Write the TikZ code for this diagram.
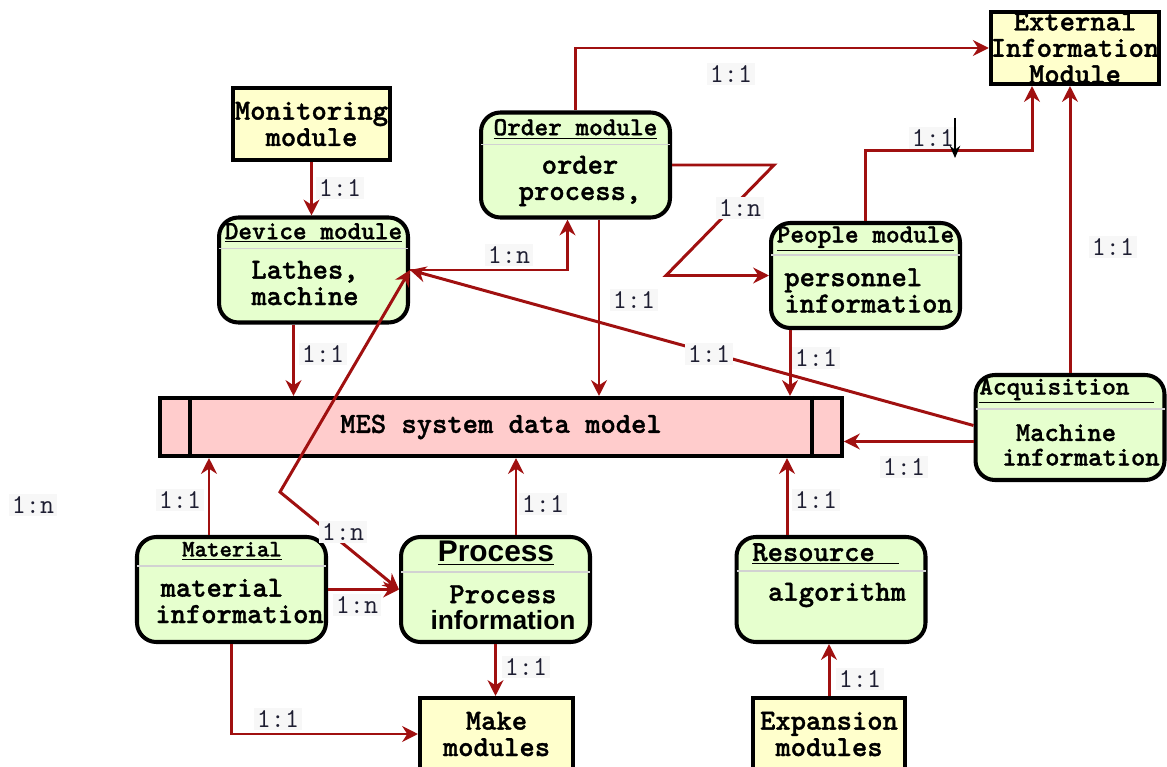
\documentclass[tikz,border=0pt]{standalone}
\usepackage{fontspec}
\newfontfamily\arialfont{Liberation Sans}
\newfontfamily\monobold{lmmonolt10-bold.otf}[RawFeature={embolden=1.2}]
\usetikzlibrary{arrows.meta,calc}

\definecolor{linkred}{RGB}{160,16,16}
\definecolor{boxgreen}{RGB}{230,255,206}
\definecolor{boxyellow}{RGB}{255,255,204}
\definecolor{mespink}{RGB}{255,204,204}
\definecolor{ratioink}{RGB}{30,30,50}

\newcommand\BodyFont{\monobold\fontsize{16.6pt}{15pt}\selectfont}
\newcommand\HeadFont{\monobold\fontsize{14.8pt}{14pt}\selectfont}
\newcommand\RatioFont{\ttfamily\fontsize{15.5pt}{14pt}\selectfont}

\begin{document}
\begin{tikzpicture}[x=0.02cm,y=-0.02cm]
    \tikzset{ModuleStyle/.style = {%
        shape= rectangle,
        draw, line width= 2.3pt,
        fill= boxyellow,
        minimum height= 1.44cm,
        inner sep= 0pt, align= center,
        font= \BodyFont}}
    \tikzset{EntityStyle/.style = {%
        shape= rectangle,
        draw, line width= 2.3pt,
        rounded corners= 11pt,
        fill= boxgreen,
        minimum width= 3.78cm, minimum height= 2.1cm,
        inner sep= 0pt}}
    \tikzset{MesStyle/.style = {%
        shape= rectangle,
        draw, line width= 2.3pt,
        fill= mespink,
        minimum width= 13.64cm, minimum height= 1.16cm,
        font= \BodyFont}}
    \tikzset{HeadStyle/.style = {inner sep= 0pt, font= \HeadFont}}
    \tikzset{BodyStyle/.style = {inner sep= 0pt, align= center, font= \BodyFont}}
    \tikzset{SepStyle/.style = {draw= gray!35, line width= 0.9pt}}
    \tikzset{RatioStyle/.style = {fill= gray!6, inner sep= 1.5pt, text= ratioink, font= \RatioFont}}
    \tikzset{LinkStyle/.style = {%
        draw= linkred, line width= 1.7pt,
        >= {Stealth[length=9pt,width=9pt]}, ->}}

    \useasboundingbox (0,0) rectangle (1167,767);

    % plain modules
    \node[ModuleStyle, minimum width=3.14cm] (monitor) at (311.5,124) {Monitoring\\module};
    \node[ModuleStyle, minimum width=3.28cm] (external) at (1075,48) {External\\Information\\Module};
    \node[ModuleStyle, minimum width=3.06cm] (make) at (496.5,734) {Make\\modules};
    \node[ModuleStyle, minimum width=3.04cm] (expansion) at (829,734) {Expansion\\modules};

    % entity boxes
    \node[EntityStyle] (device) at (313.5,270) {};
    \node[EntityStyle] (order) at (575.5,165) {};
    \node[EntityStyle] (people) at (865.5,275.5) {};
    \node[EntityStyle] (acq) at (1070,427.5) {};
    \node[EntityStyle] (material) at (231.5,589.5) {};
    \node[EntityStyle] (process) at (495.5,589.5) {};
    \node[EntityStyle] (resource) at (831,589.5) {};

    \draw[SepStyle] ($(device.north west)+(2,33)$) -- ($(device.north east)+(-2,33)$);
    \draw[SepStyle] ($(order.north west)+(2,34)$) -- ($(order.north east)+(-2,34)$);
    \draw[SepStyle] ($(people.north west)+(2,34)$) -- ($(people.north east)+(-2,34)$);
    \draw[SepStyle] ($(acq.north west)+(2,36)$) -- ($(acq.north east)+(-2,36)$);
    \draw[SepStyle] ($(material.north west)+(2,31)$) -- ($(material.north east)+(-2,31)$);
    \draw[SepStyle] ($(process.north west)+(2,37)$) -- ($(process.north east)+(-2,37)$);
    \draw[SepStyle] ($(resource.north west)+(2,36)$) -- ($(resource.north east)+(-2,36)$);

    \node[HeadStyle] (devicehead) at (313.5,233) {\underline{Device module}};
    \node[HeadStyle] (orderhead) at (575.5,129) {\underline{Order module}};
    \node[HeadStyle] (peoplehead) at (865.5,239) {\underline{People module}};
    \node[HeadStyle, anchor=west] (acqhead) at (979,391) {\underline{Acquisition\hspace*{14pt}}};
    \node[HeadStyle, font=\monobold\fontsize{13.5pt}{14pt}\selectfont] (materialhead) at (232,551) {\underline{Material}};
    \node[HeadStyle, font=\arialfont\fontsize{17pt}{18pt}\selectfont\bfseries] (processhead) at (496,553) {\underline{Process}};
    \node[HeadStyle, font=\BodyFont, anchor=west] (resourcehead) at (752,554) {\underline{Resource\hspace*{14pt}}};

    \node[BodyStyle, align=left] (devicebody) at (305,283) {Lathes,\\machine};
    \node[BodyStyle] (orderbody) at (580,181) {order\\process,};
    \node[BodyStyle, align=left, anchor=west] (peoplebody) at (784,290.5) {personnel\\information};
    \node[BodyStyle, align=left, anchor=west, font=\monobold\fontsize{15.5pt}{14pt}\selectfont] (acqbody) at (1002,445) {\hspace*{0.5em}Machine\\information};
    \node[BodyStyle, align=left, anchor=west] (materialbody) at (155,601) {\hspace*{3pt}material\\information};
    \node[BodyStyle] (processbody) at (503,607.5) {Process\\{\arialfont\fontsize{15pt}{14.2pt}\selectfont\bfseries information}};
    \node[BodyStyle] (resourcebody) at (837,595) {algorithm};

    % data model bar
    \node[MesStyle] (mes) at (501,427) {MES system data model};
    \draw[line width=2.3pt] ($(mes.north west)+(32,0)$) -- ($(mes.south west)+(32,0)$);
    \draw[line width=2.3pt] ($(mes.north east)+(-32,0)$) -- ($(mes.south east)+(-32,0)$);

    % links
    \draw[LinkStyle] (monitor.south) -- (monitor.south |- device.north);
    \draw[LinkStyle] ($(device.south)+(-20,0)$) coordinate (d1) -- (d1 |- mes.north);
    \draw[LinkStyle] (device.east) -| ($(order.south)+(-8,0)$);
    \draw[LinkStyle] (order.north) |- (external.west);
    \draw[LinkStyle] (order.east) -- ++(102,0) -- ($(people.west)+(-103,0)$) -- (people.west);
    \draw[LinkStyle] ($(order.south)+(23.5,0)$) coordinate (o1) -- (o1 |- mes.north);
    \draw[LinkStyle] (people.north) -- ++(0,-70) -| ($(external.south)+(-43,0)$);
    \draw[LinkStyle] ($(people.south)+(-75.5,0)$) coordinate (p1) -- (p1 |- mes.north);
    \draw[LinkStyle] (acq.north) -- (acq.north |- external.south);
    \draw[LinkStyle] ($(acq.west)+(0,-2)$) -- (device.east);
    \draw[LinkStyle] ($(acq.west)+(0,14)$) coordinate (a1) -- (a1 -| mes.east);
    \draw[LinkStyle] ($(material.north)+(-22.5,0)$) coordinate (m1) -- (m1 |- mes.south);
    \draw[LinkStyle] ($(process.north)+(20.5,0)$) coordinate (c1) -- (c1 |- mes.south);
    \draw[LinkStyle] ($(resource.north)+(-44,0)$) coordinate (s1) -- (s1 |- mes.south);
    \draw[LinkStyle] (material.east) -- (process.west);
    \coordinate (kink) at (280,492);
    \draw[LinkStyle, <->] (process.west) -- (kink) -- (device.east);
    \draw[LinkStyle] (process.south) -- (process.south |- make.north);
    \draw[LinkStyle] (material.south) |- (make.west);
    \draw[LinkStyle] (expansion.north) -- (expansion.north |- resource.south);
    %\draw[LinkStyle] (people.east) -- (acq.north);

    % ratios
    \node[RatioStyle] (r1) at (340,188) {1:1};
    \node[RatioStyle] (r2) at (323,354) {1:1};
    \node[RatioStyle] (r3) at (509,255) {1:n};
    \node[RatioStyle] (r4) at (731,74) {1:1};
    \node[RatioStyle] (r5) at (740,208) {1:n};
    \node[RatioStyle] (r6) at (634,300) {1:1};
    \node[RatioStyle] (r7) at (933,138) {1:1};
    \node[RatioStyle] (r8) at (816,358) {1:1};
    \node[RatioStyle] (r9) at (1113,247) {1:1};
    \node[RatioStyle] (r10) at (709,354) {1:1};
    \node[RatioStyle] (r11) at (904,467) {1:1};
    \node[RatioStyle] (r12) at (180,500) {1:1};
    \node[RatioStyle] (r13) at (543,504) {1:1};
    \node[RatioStyle] (r14) at (816,500) {1:1};
    \node[RatioStyle] (r15) at (357,605) {1:n};
    \node[RatioStyle] (r16) at (343,532) {1:n};
    \node[RatioStyle] (r17) at (526,667) {1:1};
    \node[RatioStyle] (r18) at (278,719) {1:1};
    \node[RatioStyle] (r19) at (860,679) {1:1};
    \node[RatioStyle] (r20) at (33,505) {1:n};

    \coordinate (tickA) at (955,118);
    \coordinate (tickB) at (955,158);
    \draw[black, line width=0.8pt, -{Stealth[length=7pt,width=6pt]}] (tickA) -- (tickB);
\end{tikzpicture}
\end{document}
